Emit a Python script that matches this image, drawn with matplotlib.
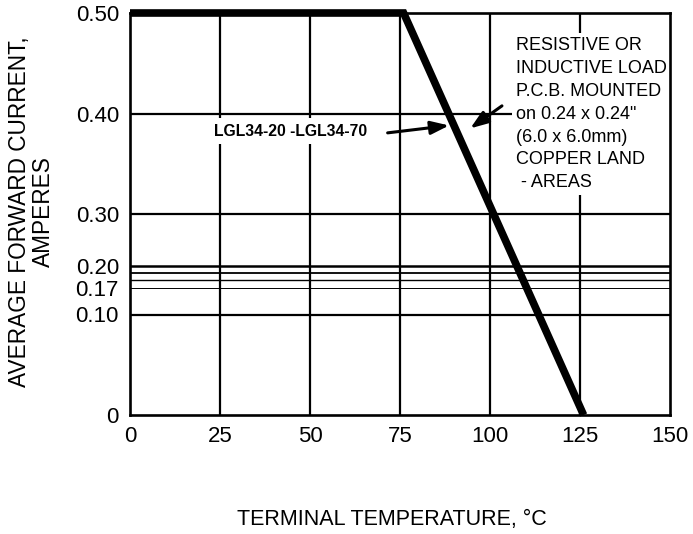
import numpy as np
import matplotlib
matplotlib.use("Agg")
import matplotlib.pyplot as plt

plt.rcParams['font.family'] = ['Liberation Sans', 'DejaVu Sans']

# ---- data ----
# y axis in the original is not linear: gridlines are evenly spaced
# but labelled 0, 0.10, 0.30, 0.40, 0.50
Y_BREAKS = [0.0, 0.10, 0.30, 0.40, 0.50]
Y_POS = [0, 1, 2, 3, 4]

# derating curve (terminal temperature degC, current A)
curve_temp = [0, 76, 88.5, 101, 113.5, 126]
curve_amps = [0.50, 0.50, 0.40, 0.30, 0.10, 0.0]

grid_x = [25, 50, 75, 100, 125]
grid_y = [0.10, 0.30, 0.40]
# the close group of thin lines between 0.10 and 0.30
level_y = [0.197, 0.183, 0.169, 0.152]
level_lw = [1.8, 1.3, 1.0, 0.7]

xticks = [0, 25, 50, 75, 100, 125, 150]
yticks = [0, 0.10, 0.152, 0.197, 0.30, 0.40, 0.50]
ytick_labels = ["0", "0.10", "0.17", "0.20", "0.30", "0.40", "0.50"]

note_lines = ["RESISTIVE OR", "INDUCTIVE LOAD", "P.C.B. MOUNTED",
              'on 0.24 x 0.24"', "(6.0 x 6.0mm)", "COPPER LAND", " - AREAS"]
part_label = "LGL34-20 -LGL34-70"


def fwd(v):
    return np.interp(v, Y_BREAKS, Y_POS)


def inv(p):
    return np.interp(p, Y_POS, Y_BREAKS)


fig = plt.figure(figsize=(6.93, 5.34), dpi=100)
ax = fig.add_axes([130 / 693, 1 - 415 / 534, 540 / 693, 402 / 534])
ax.set_yscale('function', functions=(fwd, inv))
ax.set_xlim(0, 150)
ax.set_ylim(0, 0.5)

for x in grid_x:
    ax.axvline(x, color='black', lw=1.6, zorder=1)
for y in grid_y:
    ax.axhline(y, color='black', lw=1.6, zorder=1)
for y, lw in zip(level_y, level_lw):
    ax.axhline(y, color='black', lw=lw, zorder=1)

ax.plot(curve_temp, curve_amps, color='black', lw=5.5,
        solid_joinstyle='miter', solid_capstyle='butt', clip_on=False, zorder=5)

for s in ax.spines.values():
    s.set_linewidth(1.9)
    s.set_zorder(4)

ax.set_xticks(xticks)
ax.set_xticklabels([str(t) for t in xticks])
ax.set_yticks(yticks)
ax.set_yticklabels(ytick_labels)
ax.minorticks_off()
ax.tick_params(axis='both', length=0, labelsize=16)
ax.tick_params(axis='x', pad=8)
ax.tick_params(axis='y', pad=8)

# part number label with arrow to the curve
ax.text(0.297, 0.706, part_label, transform=ax.transAxes, fontsize=11.3,
        fontweight='bold', ha='center', va='center', zorder=2,
        bbox=dict(facecolor='white', edgecolor='none', pad=4))
arrow_style = '-|>,head_length=1.1,head_width=0.4'
ax.annotate("", xy=(0.596, 0.721), xytext=(0.472, 0.701), xycoords='axes fraction',
            arrowprops=dict(arrowstyle=arrow_style, color='black', lw=2.2), zorder=6)

# mounting note with arrow
ax.text(0.715, 0.94, "\n".join(note_lines), transform=ax.transAxes,
        fontsize=13, ha='left', va='top', linespacing=1.45, zorder=2,
        bbox=dict(facecolor='white', edgecolor='none', pad=3))
ax.annotate("", xy=(0.626, 0.709), xytext=(0.693, 0.773), xycoords='axes fraction',
            arrowprops=dict(arrowstyle=arrow_style, color='black', lw=2.2), zorder=6)

fig.text(20 / 693, 1 - 212 / 534, "AVERAGE FORWARD CURRENT,", rotation=90,
         fontsize=16.3, ha='center', va='center')
fig.text(43 / 693, 1 - 212 / 534, "AMPERES", rotation=90,
         fontsize=16.3, ha='center', va='center')
fig.text(392 / 693, 1 - 520 / 534, "TERMINAL TEMPERATURE, \u00b0C",
         fontsize=15.5, ha='center', va='center')

fig.savefig("out.png", dpi=100)
